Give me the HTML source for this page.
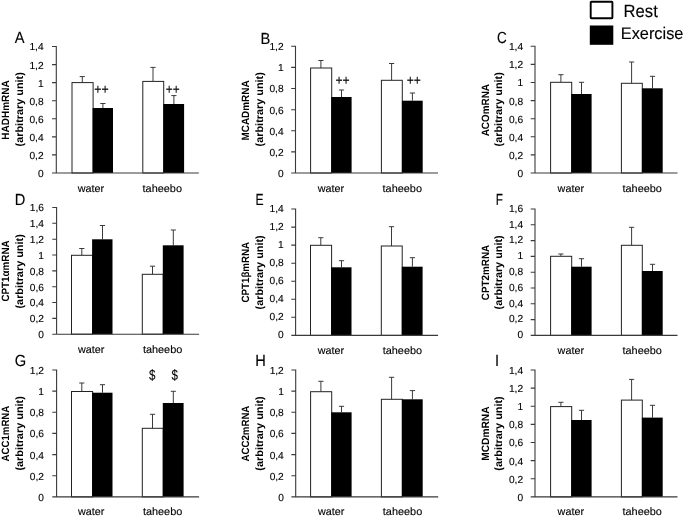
<!DOCTYPE html>
<html lang="en"><head><meta charset="utf-8"><title>Figure</title>
<style>html,body{margin:0;padding:0;background:#fff}svg{display:block}text{font-family:"Liberation Sans", "DejaVu Sans", sans-serif;fill:#000;stroke:#000;stroke-width:.12px;text-rendering:geometricPrecision}.b{font-weight:bold;stroke:none}</style></head><body>
<svg width="685" height="516" viewBox="0 0 685 516">
<rect width="685" height="516" fill="#fff"/>
<rect x="590.7" y="1.7" width="21.7" height="16.5" rx="0.6" fill="#fff" stroke="#000" stroke-width="1.9"/>
<rect x="589.8" y="25.5" width="23.5" height="19.3" fill="#000"/>
<text x="623.6" y="17.3" font-size="17.6" textLength="34.2" lengthAdjust="spacingAndGlyphs">Rest</text>
<text x="620.8" y="39.4" font-size="16.8" textLength="62.6" lengthAdjust="spacingAndGlyphs">Exercise</text>
<g>
<text transform="translate(14.7 42.9) scale(0.91 1)" font-size="16.1">A</text>
<path d="M82.3 82.6V76.6M79.7 76.6H84.9" stroke="#3a3a3a" stroke-width="1" fill="none"/>
<rect x="72.0" y="82.6" width="21.1" height="90.4" fill="#fff" stroke="#222" stroke-width="1"/>
<path d="M102.9 108.0V103.5M100.3 103.5H105.5" stroke="#3a3a3a" stroke-width="1" fill="none"/>
<rect x="92.6" y="108.0" width="20.4" height="65.0" fill="#000"/>
<path d="M153.0 81.4V67.4M150.4 67.4H155.6" stroke="#3a3a3a" stroke-width="1" fill="none"/>
<rect x="142.8" y="81.4" width="20.9" height="91.6" fill="#fff" stroke="#222" stroke-width="1"/>
<path d="M173.9 104.0V95.6M171.3 95.6H176.5" stroke="#3a3a3a" stroke-width="1" fill="none"/>
<rect x="163.3" y="104.0" width="20.8" height="69.0" fill="#000"/>
<path d="M56.3 46.0V173.0H198.8M52.0 173.0H56.3M52.0 154.9H56.3M52.0 136.9H56.3M52.0 118.8H56.3M52.0 100.7H56.3M52.0 82.6H56.3M52.0 64.6H56.3M52.0 46.5H56.3" stroke="#3a3a3a" stroke-width="1.1" fill="none"/>
<text x="43.6" y="176.9" font-size="10.2" text-anchor="end">0</text>
<text x="43.6" y="158.8" font-size="10.2" text-anchor="end">0,2</text>
<text x="43.6" y="140.8" font-size="10.2" text-anchor="end">0,4</text>
<text x="43.6" y="122.7" font-size="10.2" text-anchor="end">0,6</text>
<text x="43.6" y="104.6" font-size="10.2" text-anchor="end">0,8</text>
<text x="43.6" y="86.5" font-size="10.2" text-anchor="end">1</text>
<text x="43.6" y="68.5" font-size="10.2" text-anchor="end">1,2</text>
<text x="43.6" y="50.4" font-size="10.2" text-anchor="end">1,4</text>
<text x="77.7" y="192.3" font-size="10.6" textLength="26.4" lengthAdjust="spacingAndGlyphs">water</text>
<text x="142.6" y="192.3" font-size="10.6" textLength="39.4" lengthAdjust="spacingAndGlyphs">taheebo</text>
<text class="b" transform="translate(9.2 110.0) rotate(-90)" font-size="10.6" text-anchor="middle" textLength="59.3" lengthAdjust="spacingAndGlyphs">HADHmRNA</text>
<text class="b" transform="translate(22.5 109.3) rotate(-90)" font-size="10.6" text-anchor="middle" textLength="74.2" lengthAdjust="spacingAndGlyphs">(arbitrary unit)</text>
<text transform="translate(94.2 93.6) scale(0.884 1)" font-size="14" stroke-width="0.1">++</text>
<text transform="translate(165.8 93.6) scale(0.844 1)" font-size="14" stroke-width="0.1">++</text>
</g>
<g>
<text transform="translate(260.4 43.5) scale(0.91 1)" font-size="16.1">B</text>
<path d="M320.9 68.0V60.5M318.3 60.5H323.5" stroke="#3a3a3a" stroke-width="1" fill="none"/>
<rect x="310.6" y="68.0" width="21.1" height="105.0" fill="#fff" stroke="#222" stroke-width="1"/>
<path d="M341.5 97.0V90.0M338.9 90.0H344.1" stroke="#3a3a3a" stroke-width="1" fill="none"/>
<rect x="331.2" y="97.0" width="20.4" height="76.0" fill="#000"/>
<path d="M391.6 80.3V63.5M389.0 63.5H394.2" stroke="#3a3a3a" stroke-width="1" fill="none"/>
<rect x="381.4" y="80.3" width="20.9" height="92.7" fill="#fff" stroke="#222" stroke-width="1"/>
<path d="M412.4 100.7V93.0M409.8 93.0H415.1" stroke="#3a3a3a" stroke-width="1" fill="none"/>
<rect x="401.9" y="100.7" width="20.8" height="72.3" fill="#000"/>
<path d="M295.5 45.8V173.0H438.0M291.2 173.0H295.5M291.2 151.9H295.5M291.2 130.8H295.5M291.2 109.7H295.5M291.2 88.5H295.5M291.2 67.4H295.5M291.2 46.3H295.5" stroke="#3a3a3a" stroke-width="1.1" fill="none"/>
<text x="283.6" y="176.9" font-size="10.2" text-anchor="end">0</text>
<text x="283.6" y="155.8" font-size="10.2" text-anchor="end">0,2</text>
<text x="283.6" y="134.7" font-size="10.2" text-anchor="end">0,4</text>
<text x="283.6" y="113.6" font-size="10.2" text-anchor="end">0,6</text>
<text x="283.6" y="92.4" font-size="10.2" text-anchor="end">0,8</text>
<text x="283.6" y="71.3" font-size="10.2" text-anchor="end">1</text>
<text x="283.6" y="50.2" font-size="10.2" text-anchor="end">1,2</text>
<text x="317.7" y="192.3" font-size="10.6" textLength="26.4" lengthAdjust="spacingAndGlyphs">water</text>
<text x="382.6" y="192.3" font-size="10.6" textLength="39.4" lengthAdjust="spacingAndGlyphs">taheebo</text>
<text class="b" transform="translate(249.2 110.5) rotate(-90)" font-size="10.6" text-anchor="middle" textLength="60.1" lengthAdjust="spacingAndGlyphs">MCADmRNA</text>
<text class="b" transform="translate(262.5 109.3) rotate(-90)" font-size="10.6" text-anchor="middle" textLength="74.2" lengthAdjust="spacingAndGlyphs">(arbitrary unit)</text>
<text transform="translate(335.4 84.6) scale(0.871 1)" font-size="14" stroke-width="0.1">++</text>
<text transform="translate(406.7 84.6) scale(0.864 1)" font-size="14" stroke-width="0.1">++</text>
</g>
<g>
<text transform="translate(497.0 42.8) scale(0.84 1)" font-size="16.1">C</text>
<path d="M560.9 82.3V74.7M558.3 74.7H563.5" stroke="#3a3a3a" stroke-width="1" fill="none"/>
<rect x="550.6" y="82.3" width="21.1" height="90.7" fill="#fff" stroke="#222" stroke-width="1"/>
<path d="M581.5 94.0V82.3M578.9 82.3H584.1" stroke="#3a3a3a" stroke-width="1" fill="none"/>
<rect x="571.2" y="94.0" width="20.4" height="79.0" fill="#000"/>
<path d="M631.6 83.3V62.0M629.0 62.0H634.2" stroke="#3a3a3a" stroke-width="1" fill="none"/>
<rect x="621.4" y="83.3" width="20.9" height="89.7" fill="#fff" stroke="#222" stroke-width="1"/>
<path d="M652.5 88.3V76.3M649.9 76.3H655.1" stroke="#3a3a3a" stroke-width="1" fill="none"/>
<rect x="641.9" y="88.3" width="20.8" height="84.7" fill="#000"/>
<path d="M535.0 45.8V173.0H677.5M530.7 173.0H535.0M530.7 154.9H535.0M530.7 136.8H535.0M530.7 118.7H535.0M530.7 100.6H535.0M530.7 82.5H535.0M530.7 64.4H535.0M530.7 46.3H535.0" stroke="#3a3a3a" stroke-width="1.1" fill="none"/>
<text x="523.1" y="176.9" font-size="10.2" text-anchor="end">0</text>
<text x="523.1" y="158.8" font-size="10.2" text-anchor="end">0,2</text>
<text x="523.1" y="140.7" font-size="10.2" text-anchor="end">0,4</text>
<text x="523.1" y="122.6" font-size="10.2" text-anchor="end">0,6</text>
<text x="523.1" y="104.5" font-size="10.2" text-anchor="end">0,8</text>
<text x="523.1" y="86.4" font-size="10.2" text-anchor="end">1</text>
<text x="523.1" y="68.3" font-size="10.2" text-anchor="end">1,2</text>
<text x="523.1" y="50.2" font-size="10.2" text-anchor="end">1,4</text>
<text x="557.6" y="192.3" font-size="10.6" textLength="26.4" lengthAdjust="spacingAndGlyphs">water</text>
<text x="622.5" y="192.3" font-size="10.6" textLength="39.4" lengthAdjust="spacingAndGlyphs">taheebo</text>
<text class="b" transform="translate(489.2 110.2) rotate(-90)" font-size="10.6" text-anchor="middle" textLength="52.3" lengthAdjust="spacingAndGlyphs">ACOmRNA</text>
<text class="b" transform="translate(501.7 109.3) rotate(-90)" font-size="10.6" text-anchor="middle" textLength="74.2" lengthAdjust="spacingAndGlyphs">(arbitrary unit)</text>
</g>
<g>
<text transform="translate(14.7 204.8) scale(0.91 1)" font-size="16.1">D</text>
<path d="M81.8 255.3V248.5M79.2 248.5H84.4" stroke="#3a3a3a" stroke-width="1" fill="none"/>
<rect x="71.5" y="255.3" width="21.1" height="78.9" fill="#fff" stroke="#222" stroke-width="1"/>
<path d="M102.5 239.3V225.5M99.9 225.5H105.0" stroke="#3a3a3a" stroke-width="1" fill="none"/>
<rect x="92.1" y="239.3" width="20.4" height="94.9" fill="#000"/>
<path d="M152.5 274.3V266.2M149.9 266.2H155.1" stroke="#3a3a3a" stroke-width="1" fill="none"/>
<rect x="142.3" y="274.3" width="20.9" height="59.9" fill="#fff" stroke="#222" stroke-width="1"/>
<path d="M173.3 245.3V230.0M170.8 230.0H175.9" stroke="#3a3a3a" stroke-width="1" fill="none"/>
<rect x="162.8" y="245.3" width="20.8" height="88.9" fill="#000"/>
<path d="M56.6 207.0V334.2H199.1M52.3 334.2H56.6M52.3 318.4H56.6M52.3 302.5H56.6M52.3 286.7H56.6M52.3 270.9H56.6M52.3 255.0H56.6M52.3 239.2H56.6M52.3 223.3H56.6M52.3 207.5H56.6" stroke="#3a3a3a" stroke-width="1.1" fill="none"/>
<text x="43.9" y="338.1" font-size="10.2" text-anchor="end">0</text>
<text x="43.9" y="322.3" font-size="10.2" text-anchor="end">0,2</text>
<text x="43.9" y="306.4" font-size="10.2" text-anchor="end">0,4</text>
<text x="43.9" y="290.6" font-size="10.2" text-anchor="end">0,6</text>
<text x="43.9" y="274.8" font-size="10.2" text-anchor="end">0,8</text>
<text x="43.9" y="258.9" font-size="10.2" text-anchor="end">1</text>
<text x="43.9" y="243.1" font-size="10.2" text-anchor="end">1,2</text>
<text x="43.9" y="227.2" font-size="10.2" text-anchor="end">1,4</text>
<text x="43.9" y="211.4" font-size="10.2" text-anchor="end">1,6</text>
<text x="78.0" y="353.0" font-size="10.6" textLength="26.4" lengthAdjust="spacingAndGlyphs">water</text>
<text x="142.9" y="353.0" font-size="10.6" textLength="39.4" lengthAdjust="spacingAndGlyphs">taheebo</text>
<text class="b" transform="translate(9.2 271.0) rotate(-90)" font-size="10.6" text-anchor="middle" textLength="61.2" lengthAdjust="spacingAndGlyphs">CPT1αmRNA</text>
<text class="b" transform="translate(22.5 271.4) rotate(-90)" font-size="10.6" text-anchor="middle" textLength="74.3" lengthAdjust="spacingAndGlyphs">(arbitrary unit)</text>
</g>
<g>
<text transform="translate(255.5 204.8) scale(0.75 1)" font-size="16.1">E</text>
<path d="M320.8 245.3V237.7M318.2 237.7H323.4" stroke="#3a3a3a" stroke-width="1" fill="none"/>
<rect x="310.5" y="245.3" width="21.1" height="90.1" fill="#fff" stroke="#222" stroke-width="1"/>
<path d="M341.5 267.3V260.7M338.9 260.7H344.1" stroke="#3a3a3a" stroke-width="1" fill="none"/>
<rect x="331.1" y="267.3" width="20.4" height="68.1" fill="#000"/>
<path d="M391.5 246.0V226.7M388.9 226.7H394.1" stroke="#3a3a3a" stroke-width="1" fill="none"/>
<rect x="381.3" y="246.0" width="20.9" height="89.4" fill="#fff" stroke="#222" stroke-width="1"/>
<path d="M412.4 266.7V257.7M409.8 257.7H415.0" stroke="#3a3a3a" stroke-width="1" fill="none"/>
<rect x="401.8" y="266.7" width="20.8" height="68.7" fill="#000"/>
<path d="M295.6 208.5V335.4H438.1M291.3 335.4H295.6M291.3 317.3H295.6M291.3 299.3H295.6M291.3 281.2H295.6M291.3 263.2H295.6M291.3 245.1H295.6M291.3 227.1H295.6M291.3 209.0H295.6" stroke="#3a3a3a" stroke-width="1.1" fill="none"/>
<text x="283.7" y="338.2" font-size="10.2" text-anchor="end">0</text>
<text x="283.7" y="320.1" font-size="10.2" text-anchor="end">0,2</text>
<text x="283.7" y="302.1" font-size="10.2" text-anchor="end">0,4</text>
<text x="283.7" y="284.0" font-size="10.2" text-anchor="end">0,6</text>
<text x="283.7" y="266.0" font-size="10.2" text-anchor="end">0,8</text>
<text x="283.7" y="247.9" font-size="10.2" text-anchor="end">1</text>
<text x="283.7" y="229.9" font-size="10.2" text-anchor="end">1,2</text>
<text x="283.7" y="211.8" font-size="10.2" text-anchor="end">1,4</text>
<text x="317.8" y="353.9" font-size="10.6" textLength="26.4" lengthAdjust="spacingAndGlyphs">water</text>
<text x="382.7" y="353.9" font-size="10.6" textLength="39.4" lengthAdjust="spacingAndGlyphs">taheebo</text>
<text class="b" transform="translate(249.2 272.2) rotate(-90)" font-size="10.6" text-anchor="middle" textLength="60.6" lengthAdjust="spacingAndGlyphs">CPT1βmRNA</text>
<text class="b" transform="translate(262.5 272.4) rotate(-90)" font-size="10.6" text-anchor="middle" textLength="74.1" lengthAdjust="spacingAndGlyphs">(arbitrary unit)</text>
</g>
<g>
<text transform="translate(495.7 204.8) scale(0.73 1)" font-size="16.1">F</text>
<path d="M560.9 256.3V254.0M558.3 254.0H563.5" stroke="#3a3a3a" stroke-width="1" fill="none"/>
<rect x="550.6" y="256.3" width="21.1" height="79.1" fill="#fff" stroke="#222" stroke-width="1"/>
<path d="M581.5 266.7V258.7M578.9 258.7H584.1" stroke="#3a3a3a" stroke-width="1" fill="none"/>
<rect x="571.2" y="266.7" width="20.4" height="68.7" fill="#000"/>
<path d="M631.6 245.3V227.3M629.0 227.3H634.2" stroke="#3a3a3a" stroke-width="1" fill="none"/>
<rect x="621.4" y="245.3" width="20.9" height="90.1" fill="#fff" stroke="#222" stroke-width="1"/>
<path d="M652.5 271.0V264.3M649.9 264.3H655.1" stroke="#3a3a3a" stroke-width="1" fill="none"/>
<rect x="641.9" y="271.0" width="20.8" height="64.4" fill="#000"/>
<path d="M535.0 208.5V335.4H677.5M530.7 335.4H535.0M530.7 319.6H535.0M530.7 303.8H535.0M530.7 288.0H535.0M530.7 272.2H535.0M530.7 256.4H535.0M530.7 240.6H535.0M530.7 224.8H535.0M530.7 209.0H535.0" stroke="#3a3a3a" stroke-width="1.1" fill="none"/>
<text x="523.1" y="338.2" font-size="10.2" text-anchor="end">0</text>
<text x="523.1" y="322.4" font-size="10.2" text-anchor="end">0,2</text>
<text x="523.1" y="306.6" font-size="10.2" text-anchor="end">0,4</text>
<text x="523.1" y="290.8" font-size="10.2" text-anchor="end">0,6</text>
<text x="523.1" y="275.0" font-size="10.2" text-anchor="end">0,8</text>
<text x="523.1" y="259.2" font-size="10.2" text-anchor="end">1</text>
<text x="523.1" y="243.4" font-size="10.2" text-anchor="end">1,2</text>
<text x="523.1" y="227.6" font-size="10.2" text-anchor="end">1,4</text>
<text x="523.1" y="211.8" font-size="10.2" text-anchor="end">1,6</text>
<text x="557.6" y="353.9" font-size="10.6" textLength="26.4" lengthAdjust="spacingAndGlyphs">water</text>
<text x="622.5" y="353.9" font-size="10.6" textLength="39.4" lengthAdjust="spacingAndGlyphs">taheebo</text>
<text class="b" transform="translate(489.2 272.5) rotate(-90)" font-size="10.6" text-anchor="middle" textLength="55.4" lengthAdjust="spacingAndGlyphs">CPT2mRNA</text>
<text class="b" transform="translate(501.7 272.4) rotate(-90)" font-size="10.6" text-anchor="middle" textLength="74.1" lengthAdjust="spacingAndGlyphs">(arbitrary unit)</text>
</g>
<g>
<text transform="translate(14.7 365.7) scale(0.91 1)" font-size="16.1">G</text>
<path d="M81.8 391.5V383.0M79.2 383.0H84.4" stroke="#3a3a3a" stroke-width="1" fill="none"/>
<rect x="71.5" y="391.5" width="21.1" height="105.4" fill="#fff" stroke="#222" stroke-width="1"/>
<path d="M102.5 392.7V384.7M99.9 384.7H105.0" stroke="#3a3a3a" stroke-width="1" fill="none"/>
<rect x="92.1" y="392.7" width="20.4" height="104.2" fill="#000"/>
<path d="M152.5 428.3V414.3M149.9 414.3H155.1" stroke="#3a3a3a" stroke-width="1" fill="none"/>
<rect x="142.3" y="428.3" width="20.9" height="68.6" fill="#fff" stroke="#222" stroke-width="1"/>
<path d="M173.3 403.0V391.3M170.8 391.3H175.9" stroke="#3a3a3a" stroke-width="1" fill="none"/>
<rect x="162.8" y="403.0" width="20.8" height="93.9" fill="#000"/>
<path d="M56.6 369.5V496.9H199.1M52.3 496.9H56.6M52.3 475.8H56.6M52.3 454.6H56.6M52.3 433.4H56.6M52.3 412.3H56.6M52.3 391.1H56.6M52.3 370.0H56.6" stroke="#3a3a3a" stroke-width="1.1" fill="none"/>
<text x="43.9" y="500.8" font-size="10.2" text-anchor="end">0</text>
<text x="43.9" y="479.6" font-size="10.2" text-anchor="end">0,2</text>
<text x="43.9" y="458.5" font-size="10.2" text-anchor="end">0,4</text>
<text x="43.9" y="437.3" font-size="10.2" text-anchor="end">0,6</text>
<text x="43.9" y="416.2" font-size="10.2" text-anchor="end">0,8</text>
<text x="43.9" y="395.0" font-size="10.2" text-anchor="end">1</text>
<text x="43.9" y="373.9" font-size="10.2" text-anchor="end">1,2</text>
<text x="78.0" y="514.7" font-size="10.6" textLength="26.4" lengthAdjust="spacingAndGlyphs">water</text>
<text x="142.9" y="514.7" font-size="10.6" textLength="39.4" lengthAdjust="spacingAndGlyphs">taheebo</text>
<text class="b" transform="translate(9.2 433.6) rotate(-90)" font-size="10.6" text-anchor="middle" textLength="55.8" lengthAdjust="spacingAndGlyphs">ACC1mRNA</text>
<text class="b" transform="translate(22.5 433.4) rotate(-90)" font-size="10.6" text-anchor="middle" textLength="74.4" lengthAdjust="spacingAndGlyphs">(arbitrary unit)</text>
<text transform="translate(152.2 379.5) scale(0.78 1)" font-size="14.8" text-anchor="middle">$</text>
<text transform="translate(174.7 379.5) scale(0.78 1)" font-size="14.8" text-anchor="middle">$</text>
</g>
<g>
<text transform="translate(255.2 365.5) scale(0.91 1)" font-size="16.1">H</text>
<path d="M320.9 391.7V381.3M318.3 381.3H323.5" stroke="#3a3a3a" stroke-width="1" fill="none"/>
<rect x="310.6" y="391.7" width="21.1" height="105.2" fill="#fff" stroke="#222" stroke-width="1"/>
<path d="M341.5 412.3V406.3M338.9 406.3H344.1" stroke="#3a3a3a" stroke-width="1" fill="none"/>
<rect x="331.2" y="412.3" width="20.4" height="84.6" fill="#000"/>
<path d="M391.6 399.3V377.3M389.0 377.3H394.2" stroke="#3a3a3a" stroke-width="1" fill="none"/>
<rect x="381.4" y="399.3" width="20.9" height="97.6" fill="#fff" stroke="#222" stroke-width="1"/>
<path d="M412.4 399.3V390.6M409.8 390.6H415.1" stroke="#3a3a3a" stroke-width="1" fill="none"/>
<rect x="401.9" y="399.3" width="20.8" height="97.6" fill="#000"/>
<path d="M295.7 369.5V496.9H438.2M291.4 496.9H295.7M291.4 475.8H295.7M291.4 454.6H295.7M291.4 433.4H295.7M291.4 412.3H295.7M291.4 391.1H295.7M291.4 370.0H295.7" stroke="#3a3a3a" stroke-width="1.1" fill="none"/>
<text x="283.8" y="500.8" font-size="10.2" text-anchor="end">0</text>
<text x="283.8" y="479.6" font-size="10.2" text-anchor="end">0,2</text>
<text x="283.8" y="458.5" font-size="10.2" text-anchor="end">0,4</text>
<text x="283.8" y="437.3" font-size="10.2" text-anchor="end">0,6</text>
<text x="283.8" y="416.2" font-size="10.2" text-anchor="end">0,8</text>
<text x="283.8" y="395.0" font-size="10.2" text-anchor="end">1</text>
<text x="283.8" y="373.9" font-size="10.2" text-anchor="end">1,2</text>
<text x="317.9" y="514.7" font-size="10.6" textLength="26.4" lengthAdjust="spacingAndGlyphs">water</text>
<text x="382.8" y="514.7" font-size="10.6" textLength="39.4" lengthAdjust="spacingAndGlyphs">taheebo</text>
<text class="b" transform="translate(249.2 433.6) rotate(-90)" font-size="10.6" text-anchor="middle" textLength="55.9" lengthAdjust="spacingAndGlyphs">ACC2mRNA</text>
<text class="b" transform="translate(262.5 433.5) rotate(-90)" font-size="10.6" text-anchor="middle" textLength="74.4" lengthAdjust="spacingAndGlyphs">(arbitrary unit)</text>
</g>
<g>
<text transform="translate(495.1 365.5) scale(0.91 1)" font-size="16.1">I</text>
<path d="M560.9 406.6V402.3M558.3 402.3H563.5" stroke="#3a3a3a" stroke-width="1" fill="none"/>
<rect x="550.6" y="406.6" width="21.1" height="90.3" fill="#fff" stroke="#222" stroke-width="1"/>
<path d="M581.5 420.0V410.3M578.9 410.3H584.1" stroke="#3a3a3a" stroke-width="1" fill="none"/>
<rect x="571.2" y="420.0" width="20.4" height="76.9" fill="#000"/>
<path d="M631.6 400.1V379.4M629.0 379.4H634.2" stroke="#3a3a3a" stroke-width="1" fill="none"/>
<rect x="621.4" y="400.1" width="20.9" height="96.8" fill="#fff" stroke="#222" stroke-width="1"/>
<path d="M652.5 417.6V405.3M649.9 405.3H655.1" stroke="#3a3a3a" stroke-width="1" fill="none"/>
<rect x="641.9" y="417.6" width="20.8" height="79.3" fill="#000"/>
<path d="M535.0 369.5V496.9H677.5M530.7 496.9H535.0M530.7 478.8H535.0M530.7 460.6H535.0M530.7 442.5H535.0M530.7 424.4H535.0M530.7 406.3H535.0M530.7 388.1H535.0M530.7 370.0H535.0" stroke="#3a3a3a" stroke-width="1.1" fill="none"/>
<text x="523.1" y="500.8" font-size="10.2" text-anchor="end">0</text>
<text x="523.1" y="482.7" font-size="10.2" text-anchor="end">0,2</text>
<text x="523.1" y="464.5" font-size="10.2" text-anchor="end">0,4</text>
<text x="523.1" y="446.4" font-size="10.2" text-anchor="end">0,6</text>
<text x="523.1" y="428.3" font-size="10.2" text-anchor="end">0,8</text>
<text x="523.1" y="410.2" font-size="10.2" text-anchor="end">1</text>
<text x="523.1" y="392.0" font-size="10.2" text-anchor="end">1,2</text>
<text x="523.1" y="373.9" font-size="10.2" text-anchor="end">1,4</text>
<text x="557.6" y="514.7" font-size="10.6" textLength="26.4" lengthAdjust="spacingAndGlyphs">water</text>
<text x="622.5" y="514.7" font-size="10.6" textLength="39.4" lengthAdjust="spacingAndGlyphs">taheebo</text>
<text class="b" transform="translate(489.2 433.6) rotate(-90)" font-size="10.6" text-anchor="middle" textLength="54.3" lengthAdjust="spacingAndGlyphs">MCDmRNA</text>
<text class="b" transform="translate(501.7 433.5) rotate(-90)" font-size="10.6" text-anchor="middle" textLength="74.4" lengthAdjust="spacingAndGlyphs">(arbitrary unit)</text>
</g>
</svg></body></html>
